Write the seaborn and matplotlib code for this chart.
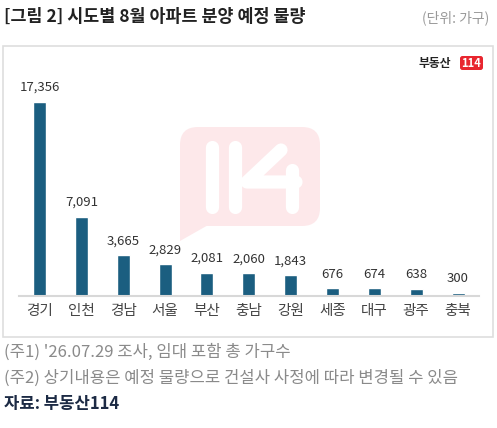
import matplotlib
matplotlib.use("Agg")
import matplotlib.pyplot as plt
from matplotlib.patches import FancyBboxPatch, Rectangle, Polygon
import pandas as pd
import seaborn as sns

# data
regions = ["경기", "인천", "경남", "서울", "부산", "충남", "강원", "세종", "대구", "광주", "충북"]
units = [17356, 7091, 3665, 2829, 2081, 2060, 1843, 676, 674, 638, 300]

title = "[그림 2] 시도별 8월 아파트 분양 예정 물량"
unit_note = "(단위: 가구)"
notes = ["(주1) '26.07.29 조사, 임대 포함 총 가구수",
         "(주2) 상기내용은 예정 물량으로 건설사 사정에 따라 변경될 수 있음"]
source = "자료: 부동산114"

sns.set_theme(style="white")
plt.rcParams["font.family"] = ["Noto Sans CJK KR", "DejaVu Sans"]

W, H = 497, 428
fig = plt.figure(figsize=(W / 100, H / 100), dpi=100)
fig.patch.set_facecolor("white")

# background layer in pixel coordinates (frame, watermark, header, notes)
bg = fig.add_axes([0, 0, 1, 1])
bg.set_xlim(0, W)
bg.set_ylim(H, 0)
bg.axis("off")
bg.set_zorder(0)

bg.add_patch(Rectangle((3, 46), 490, 291, fill=False, edgecolor="#dedede",
                       linewidth=1.2))

# watermark speech bubble
pink = "#fde8ea"
bg.add_patch(FancyBboxPatch((180, 127), 140, 99,
                            boxstyle="round,pad=0,rounding_size=18",
                            facecolor=pink, edgecolor="none"))
bg.add_patch(Polygon([(180, 205), (180, 241), (210, 224)], closed=True,
                     facecolor=pink, edgecolor="none"))
for xs, ys in [([212, 212], [147, 207]), ([235, 235], [147, 207]),
               ([281, 247, 296], [150, 182, 182]), ([292, 292], [170, 207])]:
    bg.plot(xs, ys, color="white", linewidth=9.5, solid_capstyle="round",
            solid_joinstyle="round")

# header
bg.text(4, 17, title, fontsize=12.5, fontweight="bold", color="#222222",
        ha="left", va="center")
bg.text(489, 18, unit_note, fontsize=10, color="#999999", ha="right", va="center")

# logo
bg.text(451, 63, "부동산", fontsize=8.5, fontweight="bold", color="#222222",
        ha="right", va="center")
bg.add_patch(FancyBboxPatch((460, 56), 23, 14,
                            boxstyle="round,pad=0,rounding_size=2.5",
                            facecolor="#e8262f", edgecolor="none"))
bg.text(471.5, 63, "114", fontsize=8, fontweight="bold", color="white",
        ha="center", va="center")

# footnotes
bg.text(4, 352, notes[0], fontsize=12, color="#8a8a8a", ha="left", va="center")
bg.text(4, 378, notes[1], fontsize=12, color="#8a8a8a", ha="left", va="center")
bg.text(4, 404, source, fontsize=12, fontweight="bold", color="#1c2a44",
        ha="left", va="center")

# bar chart
ax = fig.add_axes([18.6 / W, 1 - 296 / H, 460.4 / W, 223.6 / H])
ax.set_facecolor("none")
ax.set_zorder(2)

df = pd.DataFrame({"region": regions, "units": units})
sns.barplot(data=df, x="region", y="units", color="#1b5e80", width=0.31,
            saturation=1, ax=ax)
ax.set_xlim(-0.5, len(regions) - 0.5)
ax.set_ylim(0, 20000)

for i, v in enumerate(units):
    ax.text(i, v + 700, f"{v:,}", ha="center", va="bottom", fontsize=9.5,
            color="#333333")

ax.set_xlabel("")
ax.set_ylabel("")
ax.set_yticks([])
ax.tick_params(axis="x", length=0, pad=6, labelsize=10.5, labelcolor="#444444")
for side in ["top", "right", "left"]:
    ax.spines[side].set_visible(False)
ax.spines["bottom"].set_color("#d8d8d8")
ax.spines["bottom"].set_linewidth(1.5)

fig.savefig("out.png", dpi=100, facecolor="white")
